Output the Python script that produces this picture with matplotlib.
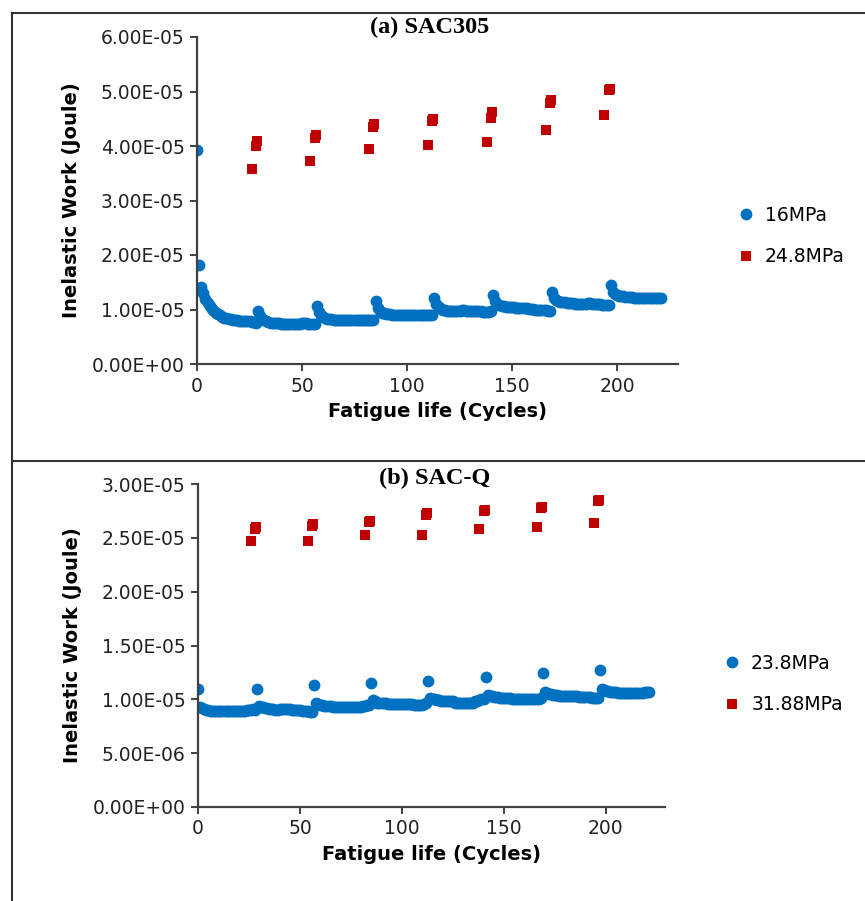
import numpy as np
import matplotlib
matplotlib.use("Agg")
import matplotlib.pyplot as plt
from matplotlib.lines import Line2D
from matplotlib.ticker import FormatStrFormatter

# (a) SAC305, 16MPa: inelastic work per cycle (x 1e-5 J), one block per 28 cycles
sac305_16 = np.array(
    [3.93, 1.82, 1.42, 1.30, 1.20, 1.12, 1.06, 1.01, 0.97, 0.94, 0.91, 0.89, 0.87, 0.85, 0.84,
     0.83, 0.82, 0.81, 0.80, 0.80, 0.79, 0.79, 0.78, 0.78, 0.78, 0.78, 0.77, 0.77, 0.76]
    + [0.97, 0.88, 0.83, 0.80, 0.78, 0.77, 0.76, 0.76, 0.75, 0.75, 0.75, 0.74, 0.74, 0.74,
       0.74, 0.74, 0.74, 0.74, 0.74, 0.74, 0.74, 0.75, 0.75, 0.75, 0.74, 0.74, 0.73, 0.73]
    + [1.07, 0.96, 0.90, 0.86, 0.84, 0.83, 0.82, 0.82, 0.81, 0.81, 0.81, 0.80, 0.80, 0.80,
       0.80, 0.80, 0.80, 0.80, 0.80, 0.80, 0.80, 0.80, 0.81, 0.81, 0.80, 0.80, 0.80, 0.81]
    + [1.15, 1.02, 0.97, 0.94, 0.93, 0.92, 0.91, 0.91, 0.90, 0.90, 0.90, 0.90, 0.90, 0.90,
       0.90, 0.90, 0.90, 0.89, 0.89, 0.89, 0.89, 0.89, 0.89, 0.89, 0.89, 0.89, 0.89, 0.90]
    + [1.22, 1.10, 1.04, 1.01, 1.00, 0.99, 0.98, 0.98, 0.98, 0.98, 0.98, 0.98, 0.98, 0.99,
       0.99, 0.98, 0.98, 0.97, 0.97, 0.97, 0.97, 0.97, 0.97, 0.96, 0.96, 0.96, 0.96, 0.97]
    + [1.27, 1.15, 1.10, 1.08, 1.07, 1.06, 1.05, 1.05, 1.04, 1.04, 1.04, 1.03, 1.03, 1.03,
       1.02, 1.02, 1.02, 1.01, 1.01, 1.01, 1.00, 1.00, 1.00, 0.99, 0.99, 0.99, 0.98, 0.98]
    + [1.33, 1.22, 1.17, 1.15, 1.14, 1.13, 1.13, 1.12, 1.12, 1.12, 1.12, 1.11, 1.11, 1.11,
       1.11, 1.11, 1.11, 1.12, 1.12, 1.11, 1.11, 1.10, 1.10, 1.10, 1.09, 1.09, 1.09, 1.08]
    + [1.45, 1.32, 1.28, 1.26, 1.25, 1.24, 1.24, 1.23, 1.23, 1.23, 1.23, 1.22, 1.22, 1.22,
       1.22, 1.22, 1.22, 1.22, 1.22, 1.22, 1.22, 1.22, 1.22, 1.22, 1.22]
) * 1e-5
sac305_16_x = np.arange(len(sac305_16))

sac305_24_x = [26, 28, 28.5, 54, 56, 56.5, 82, 84, 84.5, 110, 112, 112.5,
               138, 140, 140.5, 166, 168, 168.5, 194, 196, 196.5]
sac305_24 = np.array([3.58, 4.00, 4.10, 3.73, 4.15, 4.20, 3.95, 4.35, 4.40, 4.02, 4.45, 4.50,
                      4.07, 4.52, 4.62, 4.30, 4.78, 4.85, 4.57, 5.03, 5.05]) * 1e-5

# (b) SAC-Q, 23.8MPa
sacq_23 = np.array(
    [1.10, 0.93, 0.92, 0.91, 0.90, 0.90, 0.89, 0.89, 0.89, 0.89, 0.89, 0.89, 0.89, 0.89, 0.89,
     0.89, 0.89, 0.89, 0.89, 0.89, 0.89, 0.89, 0.89, 0.89, 0.90, 0.90, 0.90, 0.91, 0.90]
    + [1.10, 0.94, 0.93, 0.93, 0.92, 0.92, 0.91, 0.91, 0.91, 0.90, 0.90, 0.91, 0.91, 0.91,
       0.91, 0.91, 0.91, 0.90, 0.90, 0.90, 0.90, 0.90, 0.89, 0.89, 0.89, 0.89, 0.88, 0.88]
    + [1.13, 0.97, 0.96, 0.95, 0.95, 0.94, 0.94, 0.94, 0.94, 0.93, 0.93, 0.93, 0.93, 0.93,
       0.93, 0.93, 0.93, 0.93, 0.93, 0.93, 0.93, 0.93, 0.93, 0.93, 0.94, 0.94, 0.95, 0.95]
    + [1.15, 0.99, 0.98, 0.97, 0.97, 0.97, 0.97, 0.97, 0.96, 0.96, 0.96, 0.96, 0.96, 0.96,
       0.96, 0.96, 0.96, 0.96, 0.96, 0.96, 0.96, 0.95, 0.95, 0.95, 0.95, 0.95, 0.96, 0.97]
    + [1.17, 1.01, 1.00, 1.00, 0.99, 0.99, 0.98, 0.98, 0.98, 0.98, 0.98, 0.98, 0.98, 0.97,
       0.97, 0.97, 0.97, 0.97, 0.97, 0.97, 0.97, 0.97, 0.97, 0.98, 0.98, 0.99, 1.00, 1.00]
    + [1.21, 1.04, 1.03, 1.03, 1.02, 1.02, 1.02, 1.01, 1.01, 1.01, 1.01, 1.01, 1.01, 1.00,
       1.00, 1.00, 1.00, 1.00, 1.00, 1.00, 1.00, 1.00, 1.00, 1.00, 1.00, 1.00, 1.00, 1.01]
    + [1.24, 1.07, 1.06, 1.05, 1.05, 1.04, 1.04, 1.04, 1.03, 1.03, 1.03, 1.03, 1.03, 1.03,
       1.03, 1.03, 1.03, 1.03, 1.02, 1.02, 1.02, 1.02, 1.02, 1.02, 1.01, 1.01, 1.01, 1.01]
    + [1.27, 1.10, 1.09, 1.08, 1.08, 1.07, 1.07, 1.07, 1.07, 1.06, 1.06, 1.06, 1.06, 1.06,
       1.06, 1.06, 1.06, 1.06, 1.06, 1.06, 1.06, 1.06, 1.07, 1.07, 1.07]
) * 1e-5
sacq_23_x = np.arange(len(sacq_23))

sacq_31_x = [26, 28, 28.5, 54, 56, 56.5, 82, 84, 84.5, 110, 112, 112.5,
             138, 140, 140.5, 166, 168, 168.5, 194, 196, 196.5]
sacq_31 = np.array([2.47, 2.58, 2.60, 2.47, 2.61, 2.63, 2.53, 2.65, 2.66, 2.53, 2.71, 2.73,
                    2.58, 2.75, 2.76, 2.60, 2.78, 2.79, 2.64, 2.84, 2.85]) * 1e-5

panels = [
    ("(a) SAC305", sac305_16_x, sac305_16, "16MPa", sac305_24_x, sac305_24, "24.8MPa",
     [0, 1e-5, 2e-5, 3e-5, 4e-5, 5e-5, 6e-5]),
    ("(b) SAC-Q", sacq_23_x, sacq_23, "23.8MPa", sacq_31_x, sacq_31, "31.88MPa",
     [0, 5e-6, 1e-5, 1.5e-5, 2e-5, 2.5e-5, 3e-5]),
]

W, H = 865, 901
fig = plt.figure(figsize=(W / 100, H / 100), dpi=100)

# axes boxes in pixels: left, top, right, bottom
boxes = [(197, 37, 678, 364), (198, 484, 665, 807)]
legend_pos = [(722, 236), (708, 684)]
title_pos = [(430, 27), (435, 478)]

blue = "#0070C0"
red = "#C00000"
spine_c = "#404040"

for (title, bx, by, blab, rx, ry, rlab, yt), (l, t, r, b), lp, tp in zip(
        panels, boxes, legend_pos, title_pos):
    ax = fig.add_axes([l / W, 1 - b / H, (r - l) / W, (b - t) / H])
    ax.plot(bx, by, "o", color=blue, markersize=8.5, markeredgewidth=0, label=blab)
    ax.plot(rx, ry, "s", color=red, markersize=7.5, markeredgewidth=0, label=rlab)
    ax.set_xlim(0, 229)
    ax.set_ylim(yt[0], yt[-1])
    ax.set_yticks(yt)
    ax.set_xticks([0, 50, 100, 150, 200])
    ax.yaxis.set_major_formatter(FormatStrFormatter("%.2E"))
    for s in ["top", "right"]:
        ax.spines[s].set_visible(False)
    for s in ["left", "bottom"]:
        ax.spines[s].set_color(spine_c)
        ax.spines[s].set_linewidth(1.6)
    ax.tick_params(direction="out", length=5, width=1.4, color=spine_c,
                   labelsize=13.5, labelcolor="#222222", pad=4)
    ax.set_xlabel("Fatigue life (Cycles)", fontsize=14, fontweight="bold", labelpad=5)
    ax.set_ylabel("Inelastic Work (Joule)", fontsize=14, fontweight="bold", labelpad=8)
    ax.legend(loc="center left", bbox_to_anchor=(lp[0] / W, 1 - lp[1] / H),
              bbox_transform=fig.transFigure, frameon=False, fontsize=13.5,
              numpoints=1, handlelength=0.8, handletextpad=0.6, labelspacing=1.2)
    fig.text(tp[0] / W, 1 - tp[1] / H, title, ha="center", va="center",
             fontsize=17.5, fontweight="bold", family="Liberation Serif")

# panel frame lines
frame_kw = dict(color="#333333", linewidth=1.5, transform=fig.transFigure)
fig.add_artist(Line2D([12 / W, 12 / W], [0, 1 - 13 / H], **frame_kw))
fig.add_artist(Line2D([12 / W, 1], [1 - 13 / H, 1 - 13 / H], **frame_kw))
fig.add_artist(Line2D([12 / W, 1], [1 - 461 / H, 1 - 461 / H], **frame_kw))

fig.savefig("out.png", dpi=100)
